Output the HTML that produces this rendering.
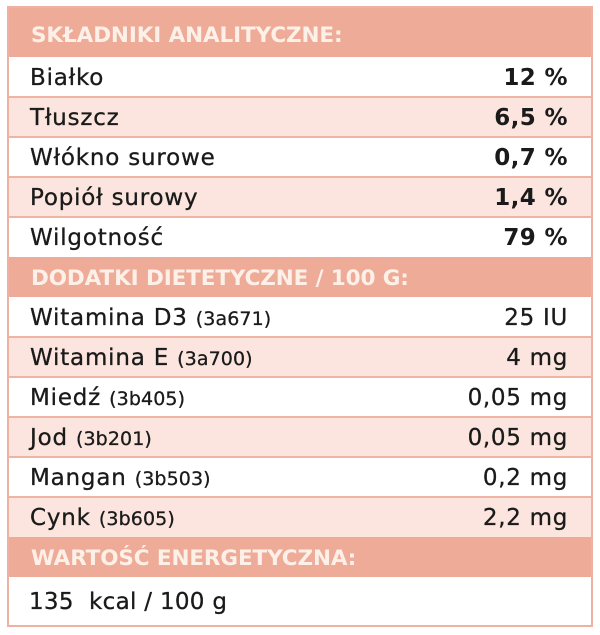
<!DOCTYPE html>
<html><head><meta charset="utf-8">
<style>
html,body{margin:0;padding:0;background:#fff;}
body{width:600px;height:635px;position:relative;overflow:hidden;font-family:"DejaVu Sans","Liberation Sans",sans-serif;color:#1a1a1a;}
.box{position:absolute;left:7px;top:6px;width:582px;height:617px;border:2px solid #efb2a2;}
.r{position:absolute;left:9px;width:582px;}
.h{background:#eeac98;}
.p{background:#fbe5de;}
.w{background:#fff;}
.sep{position:absolute;left:9px;width:582px;height:2px;background:#efb4a4;}
.t{position:absolute;left:30px;font-size:23px;line-height:23px;letter-spacing:0.8px;white-space:nowrap;-webkit-text-stroke:0.3px #1a1a1a;}
.v{position:absolute;right:32px;font-size:23px;line-height:23px;letter-spacing:0.7px;white-space:nowrap;text-align:right;-webkit-text-stroke:0.3px #1a1a1a;}
.b{font-weight:bold;-webkit-text-stroke:0;letter-spacing:0.4px;}
.c{font-size:19px;letter-spacing:0.1px;}
.ht{position:absolute;left:31px;font-size:21.5px;line-height:21.5px;font-weight:bold;color:#fdf0e8;letter-spacing:-0.1px;white-space:nowrap;}
</style></head><body>
<div class="box"></div>
<div class="r h" style="top:8px;height:49px;"></div>
<div class="r w" style="top:57px;height:40px;"></div>
<div class="r p" style="top:97px;height:40px;"></div>
<div class="r w" style="top:137px;height:40px;"></div>
<div class="r p" style="top:177px;height:40px;"></div>
<div class="r w" style="top:217px;height:40px;"></div>
<div class="r h" style="top:257px;height:40px;"></div>
<div class="r w" style="top:297px;height:40px;"></div>
<div class="r p" style="top:337px;height:40px;"></div>
<div class="r w" style="top:377px;height:40px;"></div>
<div class="r p" style="top:417px;height:40px;"></div>
<div class="r w" style="top:457px;height:40px;"></div>
<div class="r p" style="top:497px;height:40px;"></div>
<div class="r h" style="top:537px;height:40px;"></div>
<div class="r w" style="top:577px;height:48px;"></div>
<div class="sep" style="top:96px;"></div>
<div class="sep" style="top:136px;"></div>
<div class="sep" style="top:176px;"></div>
<div class="sep" style="top:216px;"></div>
<div class="sep" style="top:336px;"></div>
<div class="sep" style="top:376px;"></div>
<div class="sep" style="top:416px;"></div>
<div class="sep" style="top:456px;"></div>
<div class="sep" style="top:496px;"></div>

<div class="ht" style="top:25px;">SKŁADNIKI ANALITYCZNE:</div>
<div class="ht" style="top:268px;">DODATKI DIETETYCZNE / 100 G:</div>
<div class="ht" style="top:548px;">WARTOŚĆ ENERGETYCZNA:</div>

<div class="t" style="top:67px;">Białko</div><div class="v b" style="top:67px;">12 %</div>
<div class="t" style="top:107px;">Tłuszcz</div><div class="v b" style="top:107px;">6,5 %</div>
<div class="t" style="top:147px;">Włókno surowe</div><div class="v b" style="top:147px;">0,7 %</div>
<div class="t" style="top:187px;">Popiół surowy</div><div class="v b" style="top:187px;">1,4 %</div>
<div class="t" style="top:227px;">Wilgotność</div><div class="v b" style="top:227px;">79 %</div>

<div class="t" style="top:307px;">Witamina D3 <span class="c">(3a671)</span></div><div class="v" style="top:307px;">25 IU</div>
<div class="t" style="top:347px;">Witamina E <span class="c">(3a700)</span></div><div class="v" style="top:347px;">4 mg</div>
<div class="t" style="top:387px;">Miedź <span class="c">(3b405)</span></div><div class="v" style="top:387px;">0,05 mg</div>
<div class="t" style="top:427px;">Jod <span class="c">(3b201)</span></div><div class="v" style="top:427px;">0,05 mg</div>
<div class="t" style="top:467px;">Mangan <span class="c">(3b503)</span></div><div class="v" style="top:467px;">0,2 mg</div>
<div class="t" style="top:507px;">Cynk <span class="c">(3b605)</span></div><div class="v" style="top:507px;">2,2 mg</div>

<div class="t" style="top:591px;left:29px;letter-spacing:0.3px;">135&nbsp; kcal / 100 g</div>
</body></html>
